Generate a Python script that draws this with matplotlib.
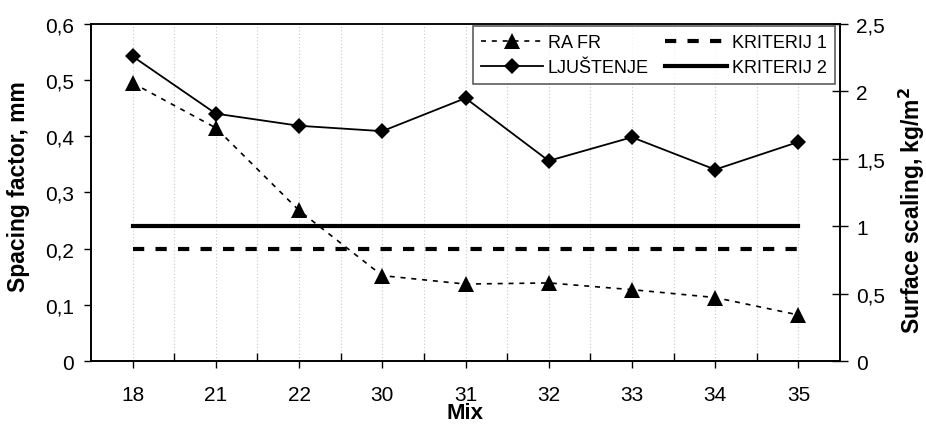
import matplotlib
matplotlib.use("Agg")
import matplotlib.pyplot as plt
import matplotlib.ticker as ticker

MIXES = ["18", "21", "22", "30", "31", "32", "33", "34", "35"]
RA_FR = [0.495, 0.415, 0.268, 0.152, 0.137, 0.139, 0.127, 0.113, 0.082]       # spacing factor, mm
LJUSTENJE = [2.26, 1.835, 1.745, 1.705, 1.95, 1.485, 1.66, 1.42, 1.625]        # surface scaling, kg/m2
KRITERIJ_1 = [0.2] * len(MIXES)   # left axis
KRITERIJ_2 = [1.0] * len(MIXES)   # right axis

plt.rcParams.update({
    "font.family": ["Liberation Sans", "DejaVu Sans"],
    "font.size": 15,
})

W, H = 926, 427
fig = plt.figure(figsize=(W / 100, H / 100), dpi=100)
fig.subplots_adjust(left=91 / W, right=840 / W, top=1 - 25 / H, bottom=1 - 362 / H)
ax = fig.add_subplot(111)
ax2 = ax.twinx()
aw, ah = 840 - 91, 362 - 25   # axes size in px

x = list(range(len(MIXES)))

# left axis: spacing factor
l1, = ax.plot(x, RA_FR, color="black", lw=1.2, linestyle=(0, (3, 3.5)),
              marker="^", markersize=11, markeredgewidth=0, label="RA FR")
l3, = ax.plot(x, KRITERIJ_1, color="black", lw=3, linestyle=(0, (2.7, 2.7)),
              label="KRITERIJ 1")

# right axis: surface scaling
l2, = ax2.plot(x, LJUSTENJE, color="black", lw=1.3, marker="D", markersize=8,
               markeredgewidth=0, label="LJUŠTENJE")
l4, = ax2.plot(x, KRITERIJ_2, color="black", lw=3, label="KRITERIJ 2")

ax.set_xlim(-0.5, len(MIXES) - 0.5)
ax.set_ylim(0, 0.6)
ax2.set_ylim(0, 2.5)

comma = ticker.FuncFormatter(lambda v, p: f"{v:g}".replace(".", ","))

ax.set_xticks(x)
ax.set_xticklabels(MIXES)
ax.set_xticks([i + 0.5 for i in x[:-1]], minor=True)
ax.tick_params(axis="x", which="major", direction="out", length=5, width=1, pad=12)
ax.tick_params(axis="x", which="minor", direction="in", length=6, width=1)
ax.yaxis.set_major_locator(ticker.MultipleLocator(0.1))
ax.yaxis.set_major_formatter(comma)
ax.tick_params(axis="y", direction="out", length=5, width=1, pad=7.5)
ax2.yaxis.set_major_locator(ticker.MultipleLocator(0.5))
ax2.yaxis.set_major_formatter(comma)
ax2.tick_params(axis="y", direction="inout", length=11, width=1, pad=6)

ax.grid(True, axis="x", which="both", color="#c8c8c8", linestyle=(0, (1, 2)), lw=0.8)
ax.set_axisbelow(True)

for a in (ax, ax2):
    for s in a.spines.values():
        s.set_linewidth(1.2)
        s.set_color("black")
ax.spines["top"].set_color("#444444")

ax.set_xlabel("Mix", fontsize=16, fontweight="bold")
ax.xaxis.set_label_coords(0.5, -(403 - 362) / ah)
ax.set_ylabel("Spacing factor, mm", fontsize=16.5, fontweight="bold")
ax.yaxis.set_label_coords(-(91 - 30) / aw, 0.52)
ax2.set_ylabel("Surface scaling, kg/m$^\\mathbf{2}$", fontsize=16.5, fontweight="bold")
ax2.yaxis.set_label_coords(1 + (897 - 840) / aw, 0.45)

leg = ax2.legend([l1, l2, l3, l4], ["RA FR", "LJUŠTENJE", "KRITERIJ 1", "KRITERIJ 2"],
                 ncol=2, loc="upper right", bbox_to_anchor=((835 - 91) / aw, (362 - 27) / ah),
                 borderaxespad=0, fontsize=13, frameon=True, fancybox=False, handlelength=3.4,
                 handletextpad=0.3, columnspacing=0.9, borderpad=0.45, labelspacing=0.45)
leg.get_frame().set_edgecolor("#333333")
leg.get_frame().set_linewidth(1.2)

fig.savefig("out.png", dpi=100)
